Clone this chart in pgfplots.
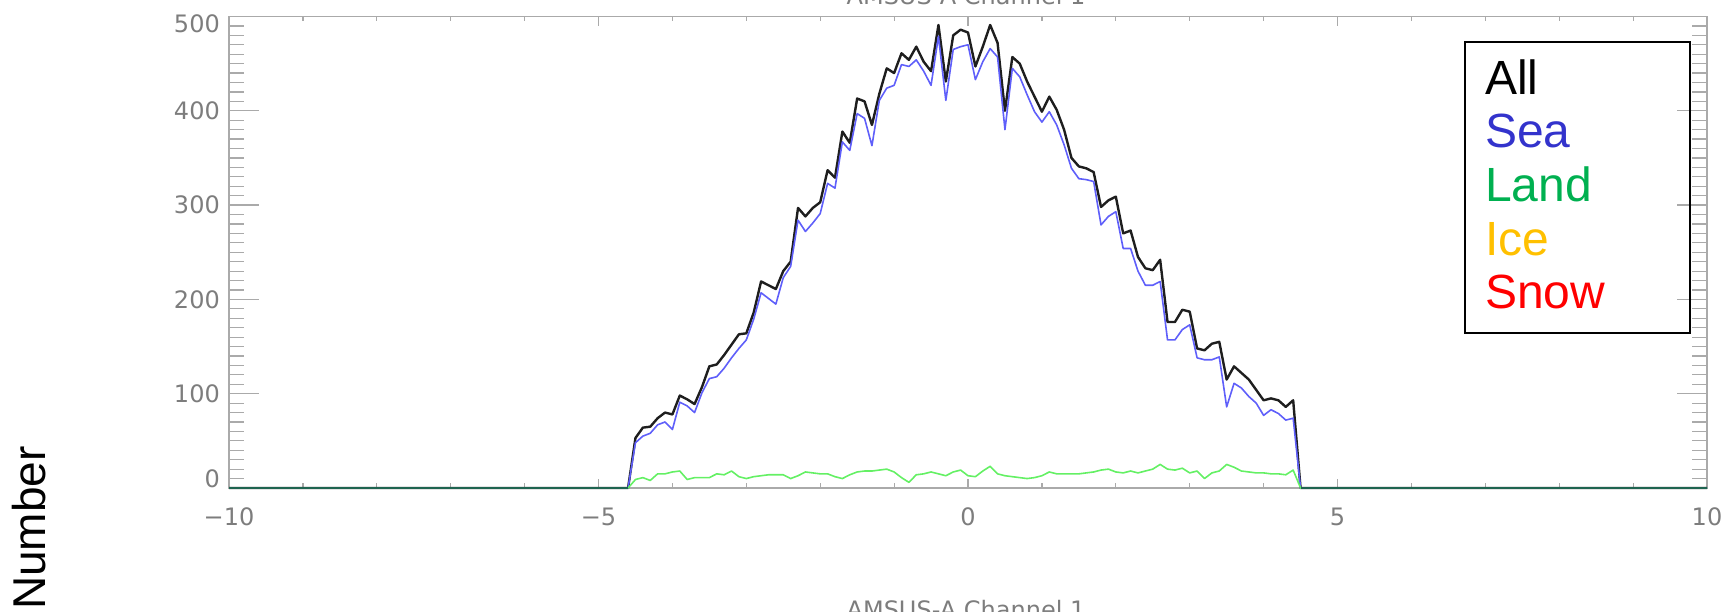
\documentclass[border=0pt]{standalone}
\usepackage{fontspec}
\setmainfont{Liberation Sans}
\newfontfamily\tickfont{DejaVu Sans}
\usepackage{pgfplots}
\usepackage{pgfplotstable}
\pgfplotsset{compat=1.18}
\definecolor{axgray}{RGB}{170,170,170}
\definecolor{lblgray}{RGB}{125,125,125}
\definecolor{allcol}{RGB}{30,30,30}
\definecolor{seacol}{RGB}{95,95,250}
\definecolor{landcol}{RGB}{100,240,100}
\definecolor{zerocol}{RGB}{30,100,80}
\definecolor{legsea}{RGB}{51,51,204}
\definecolor{legland}{RGB}{0,176,80}
\definecolor{legice}{RGB}{255,192,0}
\definecolor{legsnow}{RGB}{255,0,0}

\pgfplotstableread{
x all sea land
-10 0 0 0
-4.6 0 0 0
-4.5 53 48 9
-4.4 64 55 11
-4.3 65 58 8
-4.2 74 67 15
-4.1 80 70 15
-4.0 78 62 17
-3.9 98 91 18
-3.8 94 87 9
-3.7 89 80 11
-3.6 107 101 11
-3.5 129 116 11
-3.4 131 118 15
-3.3 141 127 14
-3.2 152 138 18
-3.1 163 148 12
-3.0 164 157 10
-2.9 186 179 12
-2.8 219 207 13
-2.7 215 201 14
-2.6 211 195 14
-2.5 230 223 14
-2.4 240 235 10
-2.3 297 284 13
-2.2 288 272 17
-2.1 297 281 16
-2.0 303 291 15
-1.9 337 323 15
-1.8 329 318 12
-1.7 378 367 10
-1.6 366 358 14
-1.5 413 397 17
-1.4 410 392 18
-1.3 385 363 18
-1.2 418 411 19
-1.1 445 424 20
-1.0 440 427 17
-0.9 461 449 11
-0.8 454 447 6
-0.7 468 454 14
-0.6 452 442 15
-0.5 442 427 17
-0.4 491 479 15
-0.3 431 411 13
-0.2 480 465 17
-0.1 486 468 19
0.0 483 470 13
0.1 447 433 12
0.2 468 452 18
0.3 491 466 23
0.4 472 457 15
0.5 400 380 13
0.6 457 445 12
0.7 450 436 11
0.8 431 417 10
0.9 415 399 11
1.0 399 388 13
1.1 415 399 17
1.2 401 385 15
1.3 380 364 15
1.4 350 339 15
1.5 341 328 15
1.6 339 327 16
1.7 335 325 17
1.8 298 279 19
1.9 305 288 20
2.0 309 293 17
2.1 270 254 16
2.2 273 254 18
2.3 245 230 16
2.4 233 215 18
2.5 231 215 20
2.6 242 219 25
2.7 176 157 20
2.8 176 157 19
2.9 189 168 21
3.0 187 173 16
3.1 148 138 18
3.2 146 136 10
3.3 153 136 16
3.4 155 139 18
3.5 115 86 25
3.6 129 111 22
3.7 122 106 18
3.8 115 97 17
3.9 104 90 16
4.0 93 77 16
4.1 95 83 15
4.2 93 79 15
4.3 86 72 14
4.4 93 74 19
4.5 0 0 0
10 0 0 0
}\histdata

\pgfplotstableread{
x y
-10 0
-4.6 0
}\zeroleft
\pgfplotstableread{
x y
4.5 0
10 0
}\zeroright

\begin{document}
\begin{tikzpicture}[x=1bp,y=1bp]
\useasboundingbox (0,0) rectangle (1724,612);
\begin{axis}[
  at={(229bp,124bp)}, anchor=south west,
  scale only axis, width=1478bp, height=471.5bp,
  xmin=-10, xmax=10, ymin=0, ymax=500,
  clip=false,
  xtick={-10,-5,0,5,10},
  xticklabels={−10,−5,0,5,10},
  minor x tick num=4,
  ytick={0,100,200,300,400,500},
  yticklabels={\smash{\raisebox{0bp}{0}},\smash{\raisebox{-8.7bp}{100}},\smash{\raisebox{-8.7bp}{200}},\smash{\raisebox{-8.7bp}{300}},\smash{\raisebox{-8.7bp}{400}},\smash{\raisebox{-16.2bp}{500}}},
  minor y tick num=9,
  tick align=inside,
  axis line style={axgray, line width=1.6bp},
  tick style={axgray, line width=1.2bp},
  xtick style={/pgfplots/major tick length=9.4bp, /pgfplots/minor tick length=4.7bp},
  ytick style={/pgfplots/major tick length=29.6bp, /pgfplots/minor tick length=14.8bp},
  ticklabel style={font=\tickfont\fontsize{24bp}{24bp}\selectfont, text=lblgray},
  xticklabel style={anchor=center, inner sep=0pt, yshift=-29bp},
  yticklabel style={anchor=east, inner sep=0pt, xshift=-9bp},
]
\addplot[allcol, line width=2.4bp, line join=round] table[x=x, y=all] {\histdata};
\addplot[seacol, line width=1.6bp, line join=round] table[x=x, y=sea] {\histdata};
\addplot[landcol, line width=1.6bp, line join=round] table[x=x, y=land] {\histdata};
\addplot[zerocol, line width=2.2bp] table[x=x, y=y] {\zeroleft};
\addplot[zerocol, line width=2.2bp] table[x=x, y=y] {\zeroright};
\end{axis}
% axis titles (cut by the page edge as in the reference)
\node[anchor=base, font=\tickfont\fontsize{24bp}{24bp}\selectfont, text=lblgray] at (966,607) {AMSUS-A Channel 1};
\node[anchor=base, font=\tickfont\fontsize{24bp}{24bp}\selectfont, text=lblgray] at (966,-6.5) {AMSUS-A Channel 1};
\node[rotate=90, anchor=base, inner sep=0pt, font=\fontsize{46bp}{46bp}\selectfont] at (45,84) {Number};
% legend box
\draw[line width=1.5bp] (1465,279) rectangle (1690,570);
\begin{scope}[every node/.style={anchor=base west, inner sep=0pt, font=\fontsize{48bp}{48bp}\selectfont}]
\node[text=black] at (1485,517) {All};
\node[text=legsea] at (1485,464) {Sea};
\node[text=legland] at (1485,410.5) {Land};
\node[text=legice] at (1485,356) {Ice};
\node[text=legsnow] at (1485,303) {Snow};
\end{scope}
\end{tikzpicture}
\end{document}
